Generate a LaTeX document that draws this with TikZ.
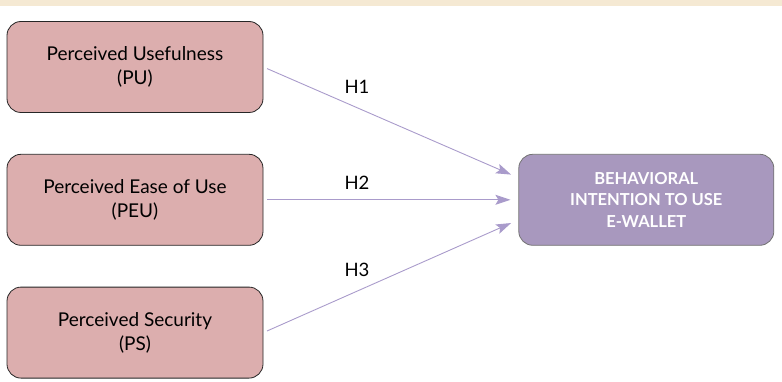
\documentclass[tikz,border=0pt]{standalone}
\usepackage{fontspec}
\setmainfont{Lato}
\usetikzlibrary{positioning}
\usetikzlibrary{arrows.meta}
\definecolor{factorfill}{HTML}{DCAEAE}
\definecolor{outcomefill}{HTML}{A898BE}
\definecolor{linkcolor}{HTML}{A99BCB}
\definecolor{bandcolor}{HTML}{F5E9D3}
\tikzset{
  box/.style            = { rectangle, minimum width=256pt, minimum height=91pt },
  border/.style         = { draw=black!85, line width=0.8pt },
  round/.style          = { rounded corners=14pt },
}
\tikzset{
  factor/.style         = { box, border, round, fill=factorfill, align=center,
                            font=\fontsize{19}{24}\selectfont },
  outcome/.style        = { box, round, draw=black!55, line width=0.8pt, fill=outcomefill,
                            minimum width=255pt, text=white, align=center,
                            font=\fontsize{16.5}{21.5}\selectfont\bfseries },
  link/.style           = { draw=linkcolor, line width=0.9pt,
                            -{Stealth[length=15pt,width=10pt,inset=3pt]},
                            shorten <=4pt, shorten >=8pt },
  hypo/.style           = { font=\fontsize{18.5}{20}\selectfont }
}

\begin{document}
\begin{tikzpicture}[x=1pt, y=-1pt, node distance=41pt]
  \useasboundingbox (0,0) rectangle (782,382);
  \fill [bandcolor] (0,0) rectangle (782,6);

  \node (pu)  [factor] at (135,67) {Perceived Usefulness\\(PU)};
  \node (peu) [factor,below=of pu]  {Perceived Ease of Use\\(PEU)};
  \node (ps)  [factor,below=of peu] {Perceived Security\\(PS)};
  \node (bi)  [outcome,right=255pt of peu] {BEHAVIORAL\\INTENTION TO USE\\E-WALLET};

  \node (h1) [hypo] at (357,87)  {H1};
  \node (h2) [hypo] at (357,183) {H2};
  \node (h3) [hypo] at (357,270) {H3};

  \draw [link] (pu.east)  -- ([yshift=22pt]bi.west);
  \draw [link] (peu.east) -- (bi.west);
  \draw [link] (ps.east)  -- ([yshift=-20pt]bi.west);
\end{tikzpicture}
\end{document}
